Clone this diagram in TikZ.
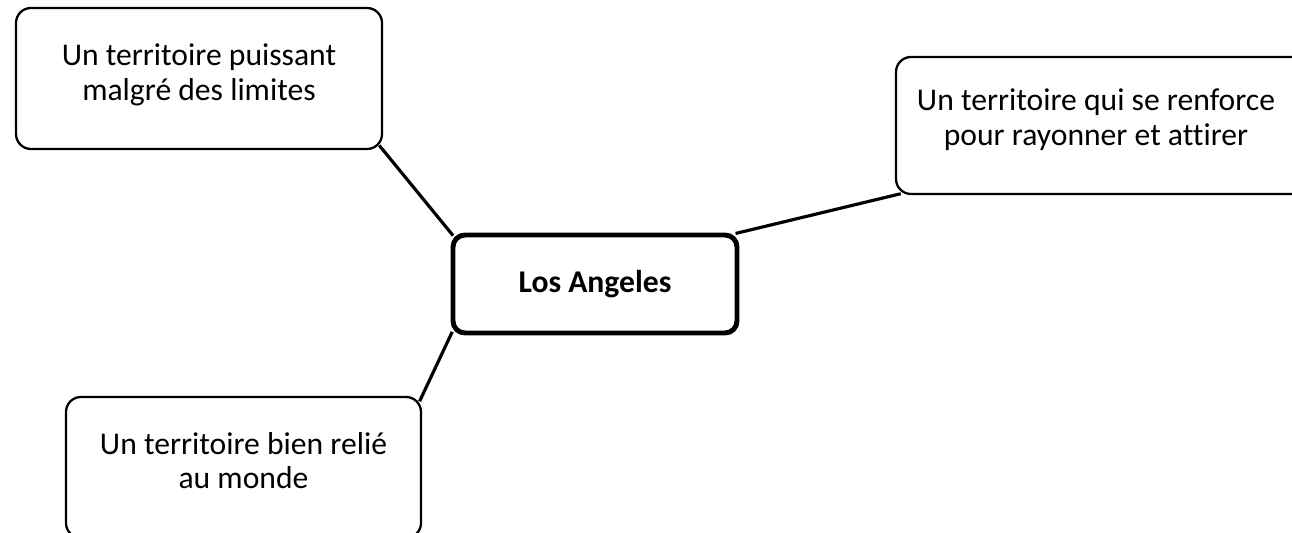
\documentclass[tikz,border=0pt]{standalone}
\usepackage{fontspec}
\setmainfont{Carlito}[Ligatures=NoCommon]
\usetikzlibrary{positioning}

\begin{document}
\begin{tikzpicture}[
    themebox/.style={draw,line width=1.3pt,rounded corners=0.3cm,
      inner sep=0pt,minimum width=#1},
    themetext/.style={inner sep=0pt,align=center,
      font=\fontsize{18}{19.4}\selectfont},
    citybox/.style={draw,line width=2.8pt,rounded corners=0.24cm,
      minimum width=5.68cm,minimum height=1.96cm,
      font=\fontsize{18}{19.4}\selectfont\bfseries},
    link/.style={line width=1.8pt,shorten <=-0.12cm,shorten >=-0.08cm}
  ]

    \useasboundingbox (0,0) rectangle (25.84,10.66);
    \clip (0,0) rectangle (25.84,10.66);

      \node[citybox] (city) at (11.9,4.98) {Los Angeles};

      \node[themebox=7.32cm,minimum height=2.82cm] (puissant) at (3.98,9.09) {};
      \node[themebox=8.4cm,minimum height=2.74cm] (renforce) at (22.12,8.15) {};
      \node[themebox=7.1cm,minimum height=2.82cm] (relie) at (4.87,1.31) {};

      \node[themetext,below=0.74cm of puissant.north] (puissanttxt)
        {Un territoire puissant\\malgré des limites};
      \node[themetext,below=0.66cm of renforce.north,xshift=-0.2cm] (renforcetxt)
        {Un territoire qui se renforce\\pour rayonner et attirer};
      \node[themetext,below=0.72cm of relie.north] (relietxt)
        {Un territoire bien relié\\au monde};

      \draw[link] (puissant.south east) -- (city.north west);
      \draw[link] (renforce.south west) -- (city.north east);
      \draw[link] (relie.north east) -- (city.south west);

  \end{tikzpicture}
\end{document}
